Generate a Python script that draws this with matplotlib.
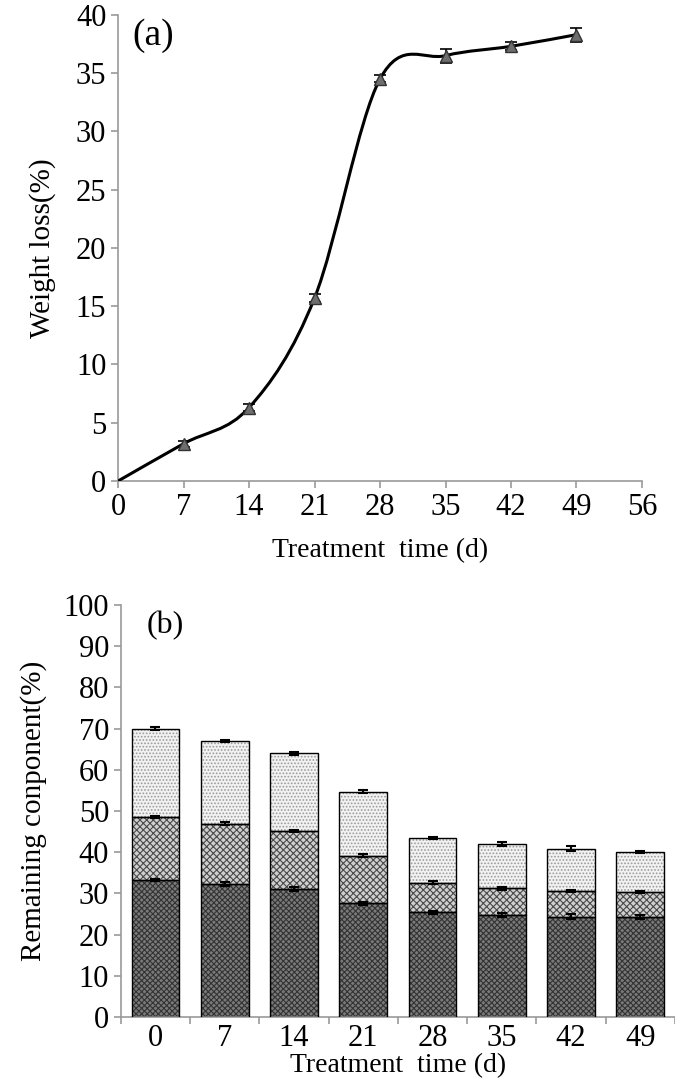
import numpy as np
import matplotlib
matplotlib.use("Agg")
import matplotlib.pyplot as plt
from matplotlib.path import Path
from matplotlib.patches import PathPatch

plt.rcParams['font.family'] = ['Liberation Serif', 'DejaVu Serif']
plt.rcParams['hatch.linewidth'] = 0.8

# (a) weight loss
days = [0, 7, 14, 21, 28, 35, 42, 49]
loss = [0.0, 3.2, 6.3, 15.7, 34.5, 36.5, 37.3, 38.3]
loss_err = [0.0, 0.25, 0.3, 0.35, 0.3, 0.6, 0.35, 0.6]

# (b) remaining components (stacked)
labels = ["0", "7", "14", "21", "28", "35", "42", "49"]
bottom_part = [33.3, 32.3, 31.1, 27.6, 25.4, 24.8, 24.4, 24.3]
total_mid = [48.5, 46.9, 45.2, 39.2, 32.6, 31.2, 30.6, 30.3]
total_top = [70.0, 67.0, 64.0, 54.7, 43.5, 41.9, 40.9, 40.1]
err_bot = [0.3, 0.4, 0.4, 0.3, 0.4, 0.4, 0.5, 0.4]
err_mid = [0.3, 0.4, 0.3, 0.4, 0.4, 0.4, 0.3, 0.3]
err_top = [0.3, 0.3, 0.4, 0.3, 0.3, 0.5, 0.7, 0.3]

fig = plt.figure(figsize=(6.75, 10.84), dpi=100)
GRAY = '#9a9a9a'

# ---------- panel (a) ----------
ax1 = fig.add_axes([0.175, 0.5563, 0.776, 0.430])
x = np.array(days, float)
y = np.array(loss, float)
# smoothed line (Excel-like bezier through the points)
verts = [(x[0], y[0])]
codes = [Path.MOVETO]
n = len(x)
for i in range(n - 1):
    p0 = np.array([x[max(i - 1, 0)], y[max(i - 1, 0)]])
    p1 = np.array([x[i], y[i]])
    p2 = np.array([x[i + 1], y[i + 1]])
    p3 = np.array([x[min(i + 2, n - 1)], y[min(i + 2, n - 1)]])
    c1 = p1 + (p2 - p0) / 6.0
    c2 = p2 - (p3 - p1) / 6.0
    verts += [tuple(c1), tuple(c2), tuple(p2)]
    codes += [Path.CURVE4] * 3
ax1.add_patch(PathPatch(Path(verts, codes), facecolor='none', edgecolor='black', lw=2.2, zorder=3))
ax1.errorbar(days[1:], loss[1:], yerr=loss_err[1:], fmt='none', ecolor='black',
             elinewidth=1.2, capsize=4, capthick=1.2, zorder=4)
ax1.plot(days[1:], loss[1:], '^', color='#6e6e6e', markeredgecolor='#333333',
         markersize=9, zorder=5)

ax1.set_xlim(0, 56)
ax1.set_ylim(0, 40)
ax1.set_xticks(range(0, 57, 7))
ax1.set_yticks(range(0, 41, 5))
for s in ['top', 'right']:
    ax1.spines[s].set_visible(False)
for s in ['left', 'bottom']:
    ax1.spines[s].set_color(GRAY)
    ax1.spines[s].set_linewidth(1.2)
ax1.tick_params(colors=GRAY, labelcolor='black', labelsize=22, length=5, width=1.2)
ax1.set_xlabel("Treatment  time (d)", fontsize=20, labelpad=12)
ax1.set_ylabel("Weight loss(%)", fontsize=21, labelpad=14)
ax1.text(0.027, 0.955, "(a)", transform=ax1.transAxes, fontsize=27, ha='left', va='center')

# ---------- panel (b) ----------
ax2 = fig.add_axes([0.179, 0.0618, 0.821, 0.380])
pos = np.arange(len(labels))
w = 0.69
mid_part = np.array(total_mid) - np.array(bottom_part)
top_part = np.array(total_top) - np.array(total_mid)
segs = [
    (np.zeros(len(pos)), np.array(bottom_part), '#7a7a7a', '#333333', 'xxxxxx'),
    (np.array(bottom_part), mid_part, '#cfcfcf', '#4a4a4a', 'xxxxx'),
    (np.array(total_mid), top_part, '#f2f2f2', '#9a9a9a', '.....'),
]
for base, h, fc, hc, hatch in segs:
    ax2.bar(pos, h, w, bottom=base, color=fc, edgecolor=hc, hatch=hatch, linewidth=0, zorder=2)
    ax2.bar(pos, h, w, bottom=base, color='none', edgecolor='black', linewidth=1.0, zorder=3)

for tops, err in [(bottom_part, err_bot), (total_mid, err_mid), (total_top, err_top)]:
    ax2.errorbar(pos, tops, yerr=err, fmt='none', ecolor='black', elinewidth=1.5,
                 capsize=3.5, capthick=1.5, zorder=4)

ax2.set_xlim(-0.5, len(labels) - 0.5)
ax2.set_ylim(0, 100)
ax2.set_yticks(range(0, 101, 10))
ax2.set_xticks(pos)
ax2.set_xticklabels(labels)
ax2.set_xticks(np.arange(-0.5, len(labels), 1.0), minor=True)
for s in ['top', 'right']:
    ax2.spines[s].set_visible(False)
for s in ['left', 'bottom']:
    ax2.spines[s].set_color(GRAY)
    ax2.spines[s].set_linewidth(1.2)
ax2.tick_params(axis='y', colors=GRAY, labelcolor='black', labelsize=22, length=5, width=1.2)
ax2.tick_params(axis='x', which='major', length=0, labelsize=22, pad=5)
ax2.tick_params(axis='x', which='minor', colors=GRAY, length=5, width=1.2)
ax2.set_xlabel("Treatment  time (d)", fontsize=20, labelpad=0)
ax2.set_ylabel("Remaining conponent(%)", fontsize=21, labelpad=12)
ax2.text(0.047, 0.95, "(b)", transform=ax2.transAxes, fontsize=23, ha='left', va='center')

fig.savefig("out.png", dpi=100)
